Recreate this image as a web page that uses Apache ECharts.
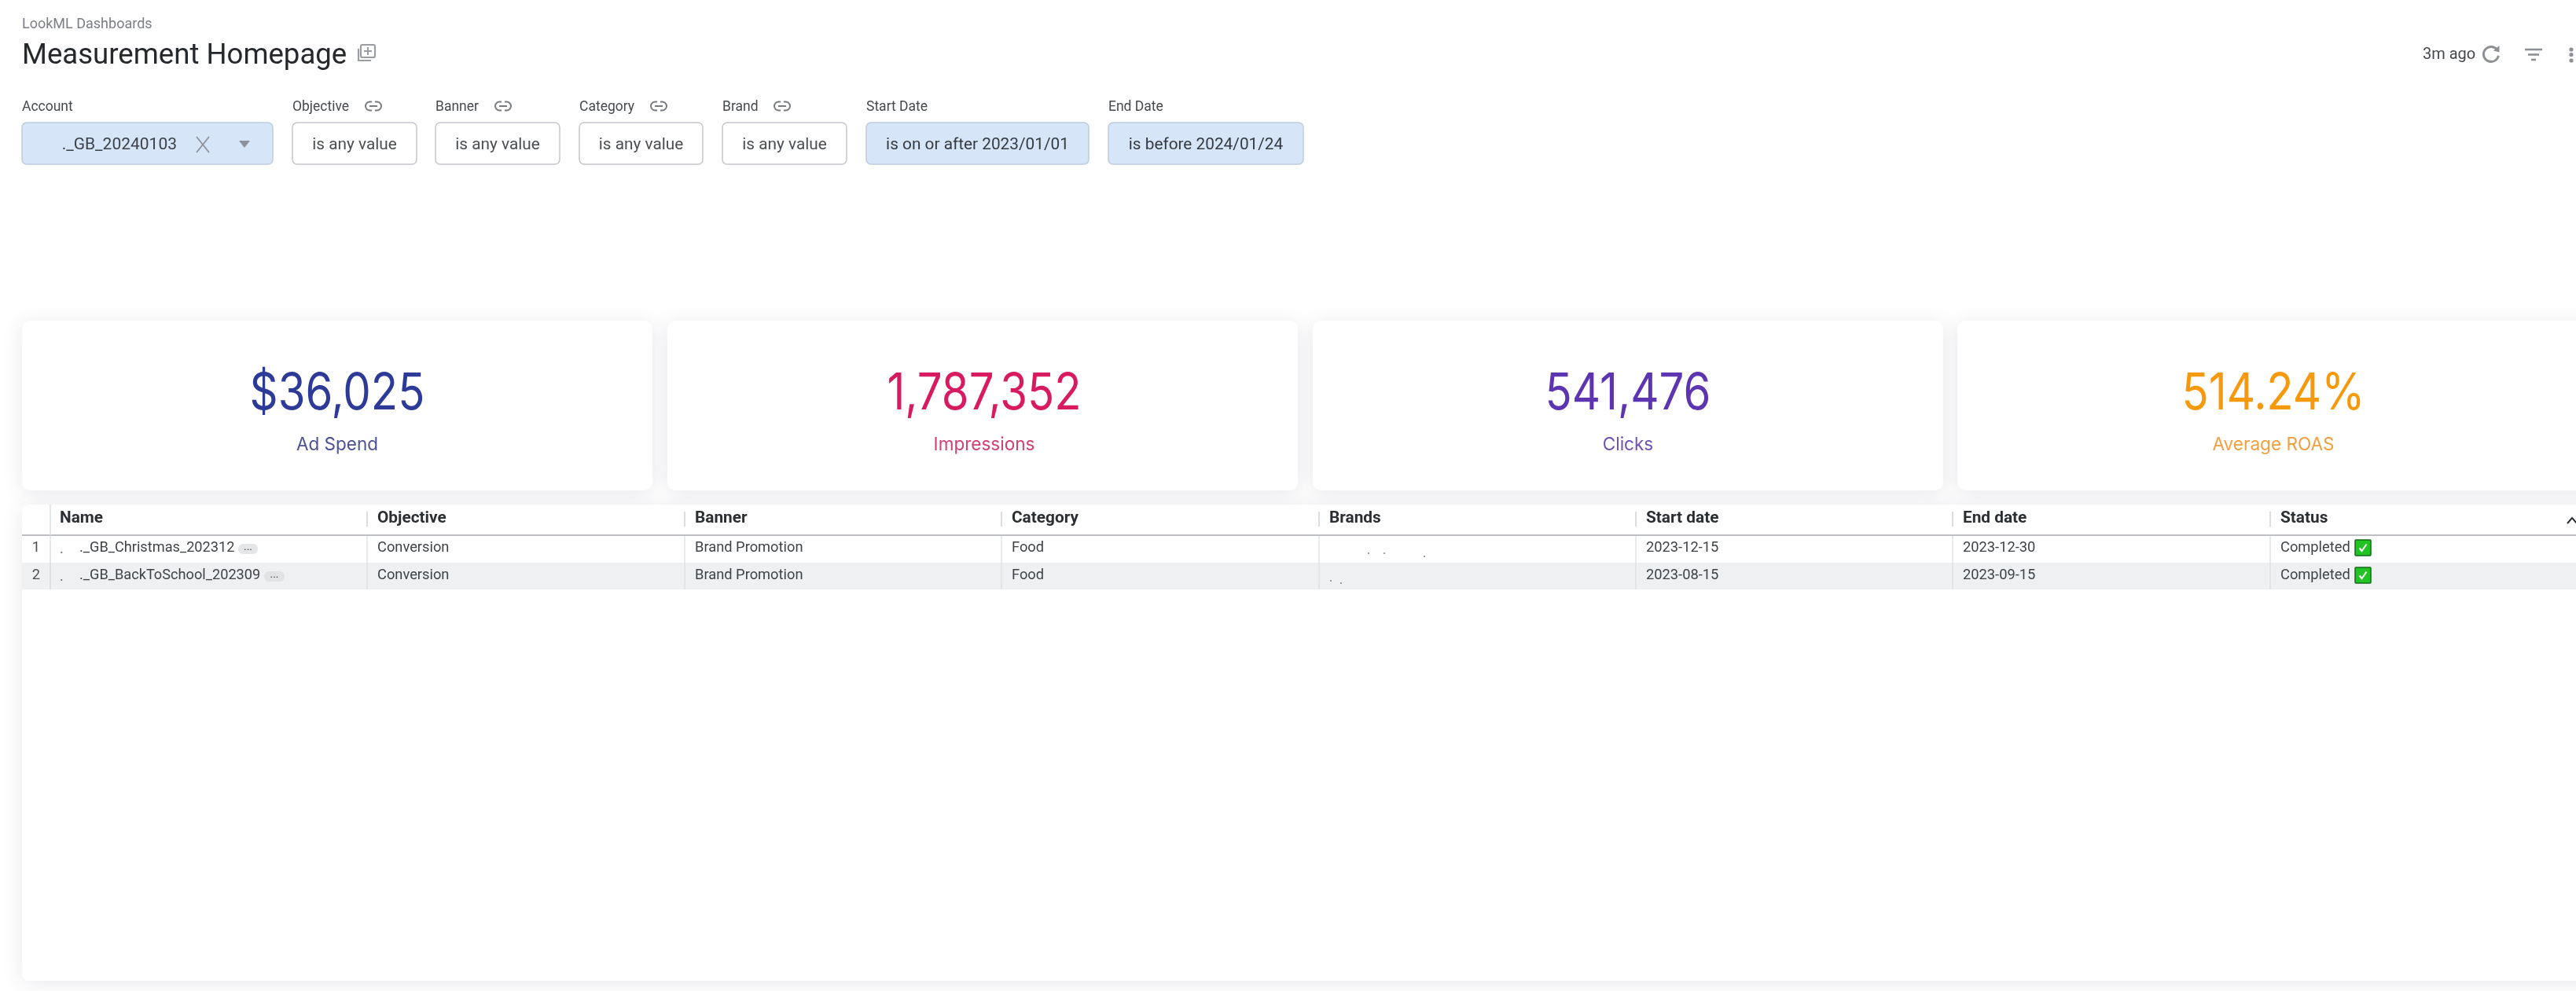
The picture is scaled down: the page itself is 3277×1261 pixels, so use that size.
<!DOCTYPE html>
<html>
<head>
<meta charset="utf-8">
<title>Measurement Homepage</title>
<script src="https://cdn.jsdelivr.net/npm/echarts@6/dist/echarts.min.js"></script>
<style>
  html, body { margin: 0; padding: 0; background: #fff; overflow: hidden; }
  #main { width: 3277px; height: 1261px; }
</style>
</head>
<body>
<div id="main"></div>
<script>
// dashboard data
const breadcrumb = "LookML Dashboards";
const dashboardTitle = "Measurement Homepage";
const refreshed = "3m ago";

const filterLabels = ["Account", "Objective", "Banner", "Category", "Brand", "Start Date", "End Date"];
const filterValues = ["._GB_20240103", "is any value", "is any value", "is any value", "is any value", "is on or after 2023/01/01", "is before 2024/01/24"];

const kpiValues = ["$36,025", "1,787,352", "541,476", "514.24%"];
const kpiLabels = ["Ad Spend", "Impressions", "Clicks", "Average ROAS"];

const tableColumns = ["Name", "Objective", "Banner", "Category", "Brands", "Start date", "End date", "Status"];
const rowNumbers = ["1", "2"];
const names = ["_GB_Christmas_202312", "_GB_BackToSchool_202309"];
const objectives = ["Conversion", "Conversion"];
const banners = ["Brand Promotion", "Brand Promotion"];
const categories = ["Food", "Food"];
const brands = ["", ""]; // redacted in the picture
const startDates = ["2023-12-15", "2023-08-15"];
const endDates = ["2023-12-30", "2023-09-15"];
const statuses = ["Completed", "Completed"];

// layout and styles
const FONT = "Roboto";
const filterBoxes = [[28, 347], [372, 530], [554, 712], [737, 894], [919, 1077], [1102, 1385], [1410, 1658]];
const activeFilters = [0, 5, 6];
const linkIconX = [null, 475, 640, 838, 995];
const cardBoxes = [[28, 830], [849, 1651], [1670, 2472], [2490, 3310]];
const cardCenters = [429, 1252, 2071, 2892];
const valueColors = ["#2E3A98", "#D81B60", "#5E35B1", "#F7990C"];
const labelColors = ["#4C5296", "#D23F74", "#6F50B5", "#F0A040"];
const columnX = [64, 467, 871, 1274, 1678, 2081, 2484, 2888];
const rowY = [697, 732];

const els = [];

function text(x, y, str, size, fill, extra) {
  els.push({
    type: "text", silent: true, z: 7,
    style: Object.assign({
      text: str, x: x, y: y, fontSize: size, fontFamily: FONT, fill: fill,
      align: "left", verticalAlign: "middle"
    }, extra || {})
  });
}
// Inter squeezed a little around its centre, closer to the card font of the picture
function squeezedText(x, y, str, size, fill, sx) {
  els.push({
    type: "text", silent: true, z: 7,
    x: x, y: y, scaleX: sx,
    style: {
      text: str, x: 0, y: 0, fontSize: size, fontFamily: "Inter", fontWeight: 400, fill: fill,
      align: "center", verticalAlign: "middle"
    }
  });
}
function rect(x, y, w, h, r, fill, stroke, extra) {
  els.push({
    type: "rect", silent: true, z: (extra && extra.z) || 2,
    shape: { x: x, y: y, width: w, height: h, r: r },
    style: Object.assign({ fill: fill, stroke: stroke || null, lineWidth: stroke ? ((extra && extra.lineWidth) || 1.5) : 0 }, (extra && extra.style) || {})
  });
}
function line(x1, y1, x2, y2, color, width) {
  els.push({
    type: "line", silent: true, z: 4,
    shape: { x1: x1, y1: y1, x2: x2, y2: y2 },
    style: { stroke: color, lineWidth: width || 1.5 }
  });
}
function polyline(points, color, width) {
  els.push({
    type: "polyline", silent: true, z: 6,
    shape: { points: points },
    style: { stroke: color, lineWidth: width, fill: null }
  });
}
function polygon(points, fill) {
  els.push({
    type: "polygon", silent: true, z: 6,
    shape: { points: points },
    style: { fill: fill }
  });
}
function linkIcon(cx, cy, bg) {
  rect(cx - 10, cy - 5.5, 20, 11, 5.5, "none", "#777b80", { z: 5, lineWidth: 2 });
  rect(cx - 2, cy - 7, 4, 14, 0, bg, null, { z: 5 });
  line(cx - 5, cy, cx + 5, cy, "#777b80", 2);
  els[els.length - 1].z = 6;
}

// header
text(28, 31, breadcrumb, 18, "#7b7f85");
text(28, 72, dashboardTitle, 36.6, "#25282c");
rect(459, 57, 18, 16, 2, "#fff", "#9a9da1", { z: 5, lineWidth: 2.2 });
polyline([[456, 62], [456, 77], [472, 77]], "#9a9da1", 2.2);
line(468, 60, 468, 70, "#9a9da1", 2); els[els.length - 1].z = 6;
line(463, 65, 473, 65, "#9a9da1", 2); els[els.length - 1].z = 6;
text(3082, 70, refreshed, 20, "#45494e");
els.push({
  type: "arc", silent: true, z: 6,
  shape: { cx: 3169, cy: 69, r: 9.6, startAngle: -0.75, endAngle: 0.2, clockwise: false },
  style: { stroke: "#8d9094", lineWidth: 3, fill: null }
});
polygon([[3172, 64.5], [3179.5, 58], [3179.5, 66.5]], "#8d9094");
line(3212, 63, 3234, 63, "#8d9094", 2.6);
line(3216, 69.5, 3230, 69.5, "#8d9094", 2.6);
line(3220, 76, 3226, 76, "#8d9094", 2.6);
[63, 69.5, 77].forEach(function (y) {
  els.push({ type: "circle", silent: true, z: 4, shape: { cx: 3271, cy: y, r: 2.6 }, style: { fill: "#8d9094" } });
});

// filters
filterLabels.forEach(function (label, i) {
  const x0 = filterBoxes[i][0], x1 = filterBoxes[i][1];
  const active = activeFilters.indexOf(i) >= 0;
  text(x0, 136.5, label, 17.5, "#45494e");
  rect(x0, 156, x1 - x0, 53, 6, active ? "#D7E5F8" : "#ffffff", active ? "#BFCBDB" : "#C4C6CB");
  if (linkIconX[i]) linkIcon(linkIconX[i], 135, "#ffffff");
  if (i === 0) {
    text(225, 185, filterValues[i], 21, "#3c4147", { align: "right" });
  } else {
    text((x0 + x1) / 2, 185, filterValues[i], 20.8, active ? "#353a41" : "#4a4e53", { align: "center" });
  }
});
polyline([[250, 174], [266, 194]], "#8c929a", 1.8);
polyline([[266, 174], [250, 194]], "#8c929a", 1.8);
polygon([[304, 179], [318, 179], [311, 188]], "#8c929a");

// KPI cards
const cardShadow = { shadowBlur: 26, shadowColor: "rgba(70,72,110,0.12)", shadowOffsetY: 3 };
cardBoxes.forEach(function (b, i) {
  rect(b[0], 408, b[1] - b[0], 216, 10, "#ffffff", null, { style: cardShadow });
  squeezedText(cardCenters[i], 502, kpiValues[i], 64, valueColors[i], 0.88);
  squeezedText(cardCenters[i], 566, kpiLabels[i], 23, labelColors[i], 0.98);
});

// table
rect(28, 642, 3300, 606, 8, "#ffffff", null, { style: cardShadow });
rect(28, 716, 3300, 34, 0, "#EEF0F2", null, { z: 3 });
line(28, 681, 3277, 681, "#BDBFC2", 2);
line(columnX[0], 642, columnX[0], 750, "#D4D8DB", 1.2);
tableColumns.forEach(function (col, c) {
  const x = columnX[c];
  text(x + (c === 0 ? 12 : 13), 660, col, 20.8, "#2b2e32", { fontWeight: 700 });
  if (c > 0) {
    line(x, 651, x, 670, "#D0D2D5", 1.5);
    line(x, 682, x, 750, "#D9DEE1", 1.2);
  }
});
polyline([[3266, 666], [3272, 659], [3278, 666]], "#2b2e32", 2);

const cellColumns = [objectives, banners, categories, brands, startDates, endDates, statuses];
rowNumbers.forEach(function (n, r) {
  const y = rowY[r];
  text(46, y, n, 18.3, "#4a4e53", { align: "center" });
  text(76, y + 2, ".", 18, "#6a6d72");
  text(101, y, "." + names[r], 18.2, "#3f4347");
  cellColumns.forEach(function (col, c) {
    if (col[r]) text(columnX[c + 1] + 13, y, col[r], 18.3, "#3f4347");
  });
});
// the little "..." pills after the names
rect(303, 692, 25, 13, 6, "#E4E6E8", null, { z: 5 });
rect(336, 727, 26, 13, 6, "#E1E3E5", null, { z: 5 });
text(315.5, 696, "...", 14, "#44484d", { align: "center" });
text(349, 731, "...", 14, "#44484d", { align: "center" });
// redacted brands specks
[[1740, 703], [1760, 703], [1811, 707], [1692, 738], [1705, 741]].forEach(function (p) {
  rect(p[0], p[1], 2, 2, 0, "#9a9da0", null, { z: 5 });
});
// green check boxes in the status column
rowY.forEach(function (y) {
  rect(2996, y - 10, 20, 20, 1, "#22C322", "#14691A", { z: 5 });
  polyline([[3001.5, y + 0.5], [3004.5, y + 4], [3010.5, y - 4.5]], "#ffffff", 2);
});

const chart = echarts.init(document.getElementById("main"), null, { width: 3277, height: 1261 });
chart.setOption({
  backgroundColor: "#ffffff",
  animation: false,
  graphic: { elements: els }
});
</script>
</body>
</html>
